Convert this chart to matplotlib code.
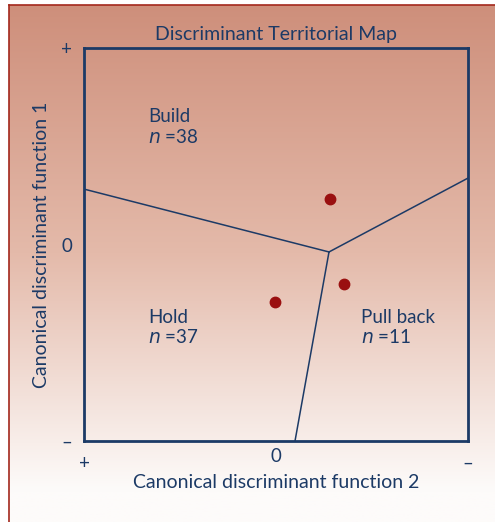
import numpy as np
import matplotlib.pyplot as plt

# territorial map data (function 2 on x, function 1 on y; x runs + to -)
boundary_left_x = [1.0, -0.276]
boundary_left_y = [0.282, -0.038]
boundary_right_x = [-0.276, -1.0]
boundary_right_y = [-0.038, 0.338]
boundary_down_x = [-0.276, -0.099]
boundary_down_y = [-0.038, -1.0]

centroid_x = [-0.281, 0.005, -0.354]
centroid_y = [0.232, -0.293, -0.201]

group_names = ['Build', 'Hold', 'Pull back']
group_n = [38, 37, 11]
label_x = [0.666, 0.666, -0.443]
label_y = [0.65, -0.37, -0.37]

tick_pos = [1, 0, -1]
x_tick_labels = ['+', '0', '\u2013']
y_tick_labels = ['+', '0', '\u2013']

navy = '#1c3a66'
plt.rcParams['font.family'] = ['Lato', 'DejaVu Sans']

fig = plt.figure(figsize=(4.95, 5.22), dpi=100)

# gradient background inside the thin red border
bg = fig.add_axes([9 / 495, 0, 1 - 9 / 495, 1 - 5 / 522], zorder=-10)
top = np.array([206, 143, 123]) / 255
mid = np.array([228, 186, 170]) / 255
bot = np.array([253, 251, 250]) / 255
t = np.linspace(0, 1, 300)[:, None]
grad = np.where(t < 0.48, top + (mid - top) * (t / 0.48),
                mid + (bot - mid) * np.clip((t - 0.48) / 0.46, 0, 1))
bg.imshow(grad[:, None, :], aspect='auto', extent=[0, 1, 0, 1])
bg.axis('off')
fig.add_artist(plt.Line2D([9 / 495, 1], [1 - 5 / 522, 1 - 5 / 522], color='#a3281c', lw=1.2))
fig.add_artist(plt.Line2D([9 / 495, 9 / 495], [0, 1 - 5 / 522], color='#a3281c', lw=1.2))

ax = fig.add_axes([84 / 495, 1 - 441 / 522, 384 / 495, 393 / 522])
ax.patch.set_alpha(0)
ax.set_xlim(1, -1)
ax.set_ylim(-1, 1)

ax.plot(boundary_left_x, boundary_left_y, color=navy, lw=1.1)
ax.plot(boundary_right_x, boundary_right_y, color=navy, lw=1.1)
ax.plot(boundary_down_x, boundary_down_y, color=navy, lw=1.1)
ax.plot(centroid_x, centroid_y, 'o', color='#9a1010', ms=7.5, zorder=5)

for name, n, lx, ly in zip(group_names, group_n, label_x, label_y):
    ax.text(lx, ly, name, color=navy, fontsize=13.5, va='center', ha='left')
    ax.text(lx, ly - 0.102, '$\\mathit{n}$ =' + str(n), color=navy, fontsize=13.5,
            va='center', ha='left', math_fontfamily='dejavusans')

for s in ax.spines.values():
    s.set_color(navy)
    s.set_linewidth(2)

ax.set_xticks(tick_pos)
ax.set_xticklabels(x_tick_labels)
ax.set_yticks(tick_pos)
ax.set_yticklabels(y_tick_labels)
ax.set_xticks([0], minor=True)
ax.set_yticks([0], minor=True)
ax.tick_params(which='major', length=0, labelsize=13.5, labelcolor=navy)
ax.tick_params(axis='x', which='major', pad=5)
ax.tick_params(axis='y', which='major', pad=8.4)
ax.tick_params(which='minor', length=11, width=1, direction='in', color=navy)
# the + and - signs on the x axis sit a little lower than the 0
for lab in ax.get_xticklabels():
    if lab.get_text() != '0':
        lab.set_y(-0.018)

ax.set_title('Discriminant Territorial Map', color=navy, fontsize=14, pad=6)
ax.set_xlabel('Canonical discriminant function 2', color=navy, fontsize=14, labelpad=1.7)
ax.set_ylabel('Canonical discriminant function 1', color=navy, fontsize=14, labelpad=8.2)

fig.savefig('out.png', dpi=100)
